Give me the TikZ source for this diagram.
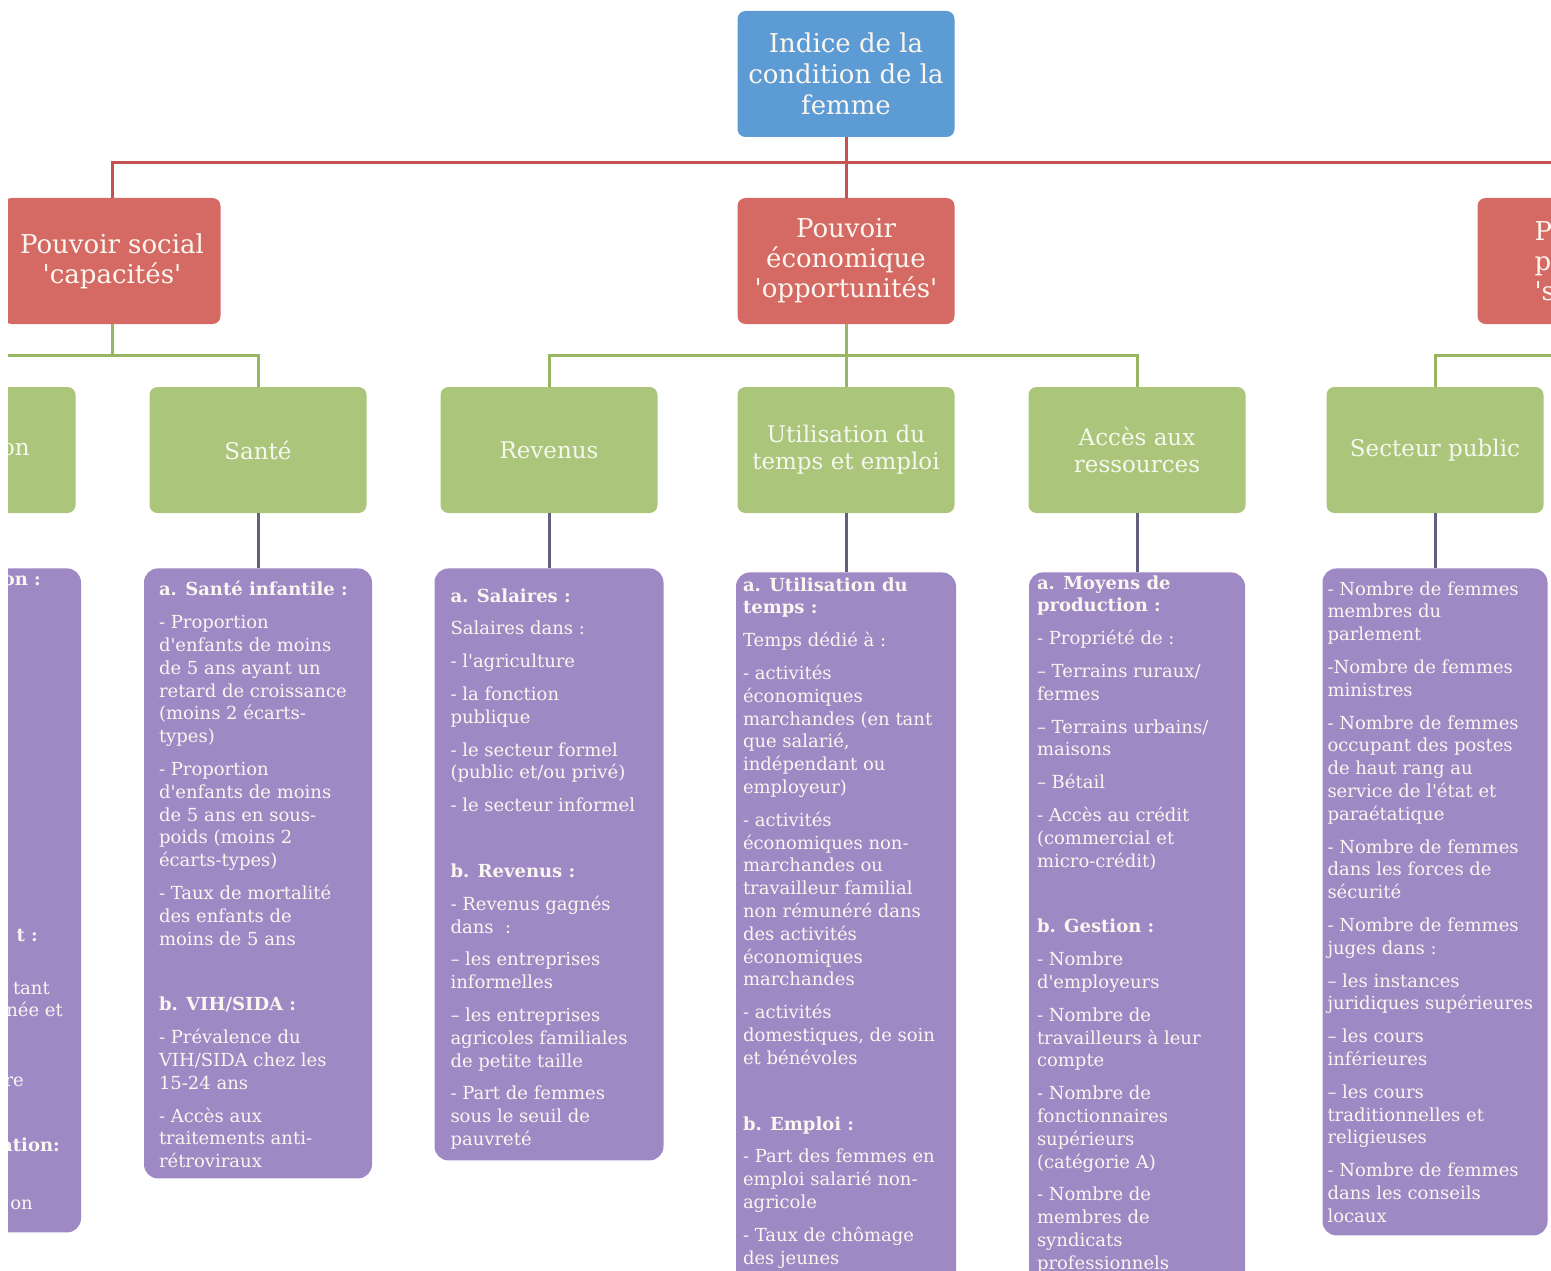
\documentclass[tikz,border=0pt]{standalone}
\usepackage{fontspec}
\setmainfont{DejaVu Serif}
\usetikzlibrary{positioning}

\definecolor{idxblue}{RGB}{93,155,212}
\definecolor{powred}{RGB}{213,106,101}
\definecolor{domgreen}{RGB}{171,197,122}
\definecolor{indpurple}{RGB}{158,137,196}
\definecolor{redwire}{RGB}{196,82,80}
\definecolor{greenwire}{RGB}{152,182,98}
\definecolor{slatewire}{RGB}{98,96,128}
\definecolor{cream}{RGB}{250,246,240}

\newcommand{\sq}{\textquotesingle}
\newcommand{\ngap}{\\[10pt]}
\newcommand{\bgap}{\\[43pt]}

\tikzset{
  box/.style={rounded corners=8pt, minimum width=217pt, minimum height=126pt, align=center, text=cream, inner sep=3pt},
  rootbox/.style={box, fill=idxblue, font=\fontsize{26}{31}\selectfont},
  powbox/.style={box, fill=powred, font=\fontsize{26}{30}\selectfont},
  dombox/.style={box, fill=domgreen, text=white!88!domgreen, font=\fontsize{23}{27}\selectfont},
  indbox/.style={rounded corners=14pt, fill=indpurple, minimum width=#1, inner sep=0pt},
  indtxt/.style={align=left, anchor=north west, text=cream, inner sep=0pt, font=\fontsize{18}{22.8}\selectfont},
  redln/.style={redwire, line width=3pt},
  greenln/.style={greenwire, line width=3pt},
  slateln/.style={slatewire, line width=3pt}
}

\begin{document}
\begin{tikzpicture}[x=1pt,y=-1pt]
\useasboundingbox (0,0) rectangle (1551,1271);
\clip (8,0) rectangle (1551,1271);

% top and the three powers
\node[rootbox] (root) at (846,74) {Indice de la\\condition de la\\femme};
\node[powbox] (socP) at (112,261) {Pouvoir social\\\sq capacités\sq};
\node[powbox] (ecoP) at (846,261) {Pouvoir\\économique\\\sq opportunités\sq};
\node[powbox] (polP) at (1586,261) {};
\node[align=left, text=cream, font=\fontsize{26}{30}\selectfont, anchor=west] (polT) at (1531,261) {P\\po\\\sq s};

% domains
\node[dombox] (eduG) at (-33,450) {};
\node[dombox] (sanG) at (258,450) {Santé};
\node[dombox] (revG) at (549,450) {Revenus};
\node[dombox] (tpsG) at (846,450) {Utilisation du\\temps et emploi};
\node[dombox] (resG) at (1137,450) {Accès aux\\ressources};
\node[dombox] (pubG) at (1435,450) {Secteur public};
\node[text=white!88!domgreen, font=\fontsize{23}{27}\selectfont, anchor=east, inner sep=0pt] (eduGt) at (30,450) {on};

% indicators
\node[indbox=228pt, minimum height=664pt, below=55pt of eduG] (eduD) {};
\node[indbox=228pt, minimum height=610pt, below=55pt of sanG] (sanD) {};
\node[indbox=229pt, minimum height=592pt, below=55pt of revG] (revD) {};
\node[indbox=220pt, minimum height=740pt, below=59pt of tpsG] (tpsD) {};
\node[indbox=216pt, minimum height=740pt, below=59pt of resG] (resD) {};
\node[indbox=225pt, minimum height=667pt, below=55pt of pubG] (pubD) {};

\node[indtxt, anchor=base east] (eduT1) at (41,585) {\textbf{on :}};
\node[indtxt, anchor=base east] (eduT2) at (38,941) {\textbf{t :}};
\node[indtxt, anchor=base east] (eduT3) at (50,994) {tant};
\node[indtxt, anchor=base east] (eduT4) at (63,1016) {née et};
\node[indtxt, anchor=base east] (eduT5) at (24,1086) {re};
\node[indtxt, anchor=base east] (eduT6) at (60,1151) {\textbf{ation:}};
\node[indtxt, anchor=base east] (eduT7) at (33,1209) {on};

\node[indtxt] (sanT) at ([xshift=15pt,yshift=-13pt]sanD.north west) {\textbf{a. Santé infantile :}\ngap
- Proportion\\d\sq enfants de moins\\de 5 ans ayant un\\retard de croissance\\(moins 2 écarts-\\types)\ngap
- Proportion\\d\sq enfants de moins\\de 5 ans en sous-\\poids (moins 2\\écarts-types)\ngap
- Taux de mortalité\\des enfants de\\moins de 5 ans\bgap
\textbf{b. VIH/SIDA :}\ngap
- Prévalence du\\VIH/SIDA chez les\\15-24 ans\ngap
- Accès aux\\traitements anti-\\rétroviraux};

\node[indtxt] (revT) at ([xshift=16pt,yshift=-20pt]revD.north west) {\textbf{a. Salaires :}\ngap
Salaires dans :\ngap
- l\sq agriculture\ngap
- la fonction\\publique\ngap
- le secteur formel\\(public et/ou privé)\ngap
- le secteur informel\bgap
\textbf{b. Revenus :}\ngap
- Revenus gagnés\\dans~~:\ngap
-- les entreprises\\informelles\ngap
-- les entreprises\\agricoles familiales\\de petite taille\ngap
- Part de femmes\\sous le seuil de\\pauvreté};

\node[indtxt] (tpsT) at ([xshift=7pt,yshift=-5pt]tpsD.north west) {\textbf{a. Utilisation du}\\\textbf{temps :}\ngap
Temps dédié à :\ngap
- activités\\économiques\\marchandes (en tant\\que salarié,\\indépendant ou\\employeur)\ngap
- activités\\économiques non-\\marchandes ou\\travailleur familial\\non rémunéré dans\\des activités\\économiques\\marchandes\ngap
- activités\\domestiques, de soin\\et bénévoles\bgap
\textbf{b. Emploi :}\ngap
- Part des femmes en\\emploi salarié non-\\agricole\ngap
- Taux de chômage\\des jeunes};

\node[indtxt] (resT) at ([xshift=8pt,yshift=-3pt]resD.north west) {\textbf{a. Moyens de}\\\textbf{production :}\ngap
- Propriété de :\ngap
-- Terrains ruraux/\\fermes\ngap
-- Terrains urbains/\\maisons\ngap
-- Bétail\ngap
- Accès au crédit\\(commercial et\\micro-crédit)\bgap
\textbf{b. Gestion :}\ngap
- Nombre\\d\sq employeurs\ngap
- Nombre de\\travailleurs à leur\\compte\ngap
- Nombre de\\fonctionnaires\\supérieurs\\(catégorie A)\ngap
- Nombre de\\membres de\\syndicats\\professionnels};

\node[indtxt] (pubT) at ([xshift=5pt,yshift=-13pt]pubD.north west) {- Nombre de femmes\\membres du\\parlement\ngap
-Nombre de femmes\\ministres\ngap
- Nombre de femmes\\occupant des postes\\de haut rang au\\service de l\sq état et\\paraétatique\ngap
- Nombre de femmes\\dans les forces de\\sécurité\ngap
- Nombre de femmes\\juges dans :\ngap
-- les instances\\juridiques supérieures\ngap
-- les cours\\inférieures\ngap
-- les cours\\traditionnelles et\\religieuses\ngap
- Nombre de femmes\\dans les conseils\\locaux};

% connectors
\coordinate (redbus) at (0,163);
\coordinate (greenbus) at (0,355);
\draw[redln] (root.south) -- (ecoP.north);
\draw[redln] (socP.north) |- (redbus -| polP.north) -- (polP.north);
\draw[greenln] (socP.south) -- (socP.south |- greenbus);
\draw[greenln] (eduG.north) |- (greenbus -| sanG.north) -- (sanG.north);
\draw[greenln] (ecoP.south) -- (tpsG.north);
\draw[greenln] (revG.north) |- (greenbus -| resG.north) -- (resG.north);
\draw[greenln] (polP.south) -- (polP.south |- greenbus);
\draw[greenln] (pubG.north) |- ([xshift=80pt]greenbus -| polP.south);
\foreach \n in {san,rev,tps,res,pub} \draw[slateln] (\n G.south) -- (\n D.north);
\end{tikzpicture}
\end{document}
